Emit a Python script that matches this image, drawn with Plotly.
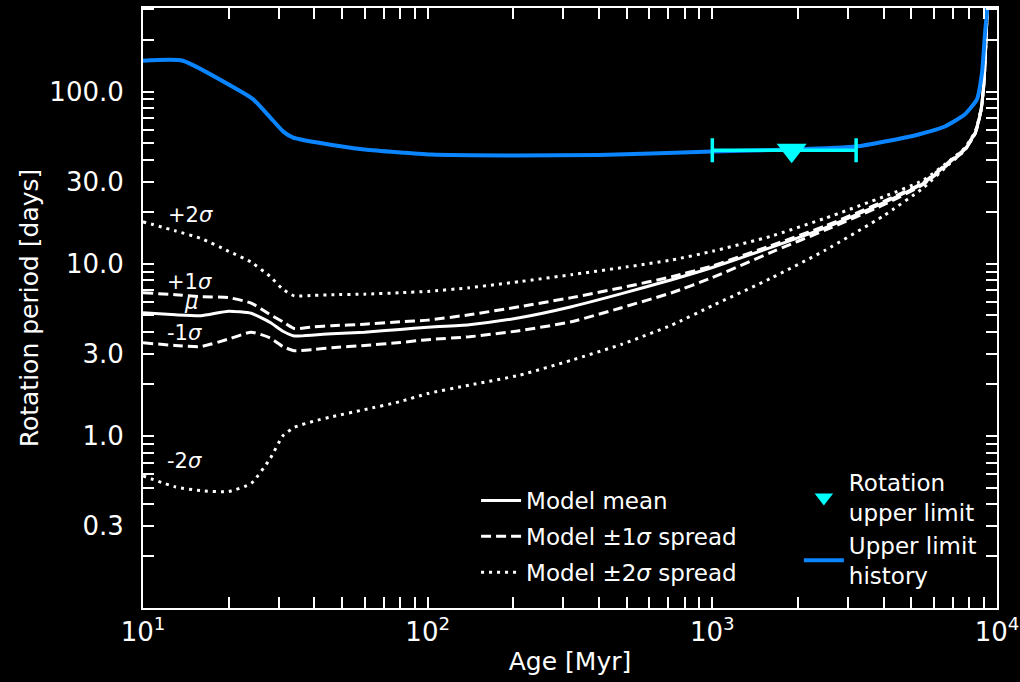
import plotly.graph_objects as go
import math

# ---- data ----
ages = [10, 13, 16, 20, 24, 28, 31, 34, 40, 46, 60, 80, 100, 140, 210, 320, 480, 720,
        1000, 1600, 2500, 4000, 5500, 6800, 7700, 8400, 8800, 9000, 9150, 9300]
p_mean = [5.19, 5.05, 4.99, 5.3, 5.15, 4.55, 4.05, 3.8, 3.85, 3.92, 4.0, 4.15, 4.27, 4.42,
          4.85, 5.62, 6.7, 8.07, 9.5, 12.4, 16.2, 22.6, 29.2, 38.7, 46, 58, 79, 113, 200, 400]
p_plus1 = [6.78, 6.6, 6.43, 6.35, 5.9, 5.05, 4.6, 4.2, 4.3, 4.36, 4.45, 4.6, 4.7, 5.05,
           5.62, 6.35, 7.25, 8.4, 9.7, 12.7, 16.6, 23.0, 29.6, 39.2, 46.5, 58.5, 79.5, 114, 200, 400]
p_minus1 = [3.47, 3.35, 3.3, 3.65, 4.0, 3.7, 3.3, 3.12, 3.18, 3.25, 3.35, 3.48, 3.62, 3.76,
            4.08, 4.6, 5.55, 6.78, 8.3, 11.6, 15.7, 22.0, 28.8, 38.2, 45.6, 57.5, 78.5, 112, 200, 400]
p_plus2 = [17.5, 15.5, 14.0, 11.8, 10.2, 8.4, 7.1, 6.5, 6.55, 6.6, 6.65, 6.78, 6.9, 7.25,
           7.86, 8.63, 9.48, 10.5, 11.8, 14.4, 18.4, 24.5, 30.5, 39.5, 47, 59, 80, 115, 200, 400]
p_minus2 = [0.585, 0.505, 0.48, 0.475, 0.53, 0.74, 1.0, 1.12, 1.22, 1.29, 1.42, 1.58, 1.76,
            1.97, 2.25, 2.75, 3.4, 4.4, 5.7, 8.2, 12.0, 19.0, 27.5, 38.0, 45.5, 57.5, 78, 112, 200, 400]

ul_age = [10, 13.8, 21.4, 24.4, 28.0, 31.1, 33.7, 41, 60, 103, 200, 400, 610, 1000,
          1900, 3200, 4040, 5300, 6560, 7700, 8500, 8860, 9080, 9230, 9350]
ul_p = [151, 151, 103, 90, 70.6, 58.5, 54, 50.5, 46, 43, 42.5, 42.8, 43.6, 44.8,
        46, 47.9, 51.2, 56.3, 62.6, 73.5, 90, 129, 220, 300, 500]

lim_age = [1900]
lim_p = [45.6]
lim_age_lo = [1000]
lim_age_hi = [3200]

x_tickvals = [10, 20, 30, 40, 50, 60, 70, 80, 90, 100, 200, 300, 400, 500, 600, 700, 800, 900,
              1000, 2000, 3000, 4000, 5000, 6000, 7000, 8000, 9000, 10000]
x_labels = {10: "10<sup>1</sup>", 100: "10<sup>2</sup>", 1000: "10<sup>3</sup>", 10000: "10<sup>4</sup>"}
y_tickvals = [0.1, 0.2, 0.3, 0.4, 0.5, 0.6, 0.7, 0.8, 0.9, 1, 2, 3, 4, 5, 6, 7, 8, 9,
              10, 20, 30, 40, 50, 60, 70, 80, 90, 100, 200, 300]
y_labels = {0.3: "0.3", 1: "1.0", 3: "3.0", 10: "10.0", 30: "30.0", 100: "100.0"}

sigma_labels = ["+2<i>σ</i>", "+1<i>σ</i>", "<i>μ</i>", "-1<i>σ</i>", "-2<i>σ</i>"]
sigma_lab_age = [12.0, 11.9, 13.7, 11.9, 11.9]
sigma_lab_p = [19.3, 7.8, 6.0, 3.95, 0.71]

FONT = "DejaVu Sans"
WHITE = "#ffffff"
BLUE = "#0a84ff"
CYAN = "#00ffff"
SM = 0.5

fig = go.Figure()

fig.add_trace(go.Scatter(x=ages, y=p_plus2, mode="lines", name="Model ±2<i>σ</i> spread",
                         line=dict(color=WHITE, width=3, dash="3px,5px", shape="spline", smoothing=SM),
                         legend="legend", legendgroup="g3", legendrank=3))
fig.add_trace(go.Scatter(x=ages, y=p_minus2, mode="lines", showlegend=False,
                         line=dict(color=WHITE, width=3, dash="3px,5px", shape="spline", smoothing=SM),
                         legendgroup="g3"))
fig.add_trace(go.Scatter(x=ages, y=p_plus1, mode="lines", name="Model ±1<i>σ</i> spread",
                         line=dict(color=WHITE, width=3, dash="10px,5px", shape="spline", smoothing=SM),
                         legend="legend", legendgroup="g2", legendrank=2))
fig.add_trace(go.Scatter(x=ages, y=p_minus1, mode="lines", showlegend=False,
                         line=dict(color=WHITE, width=3, dash="10px,5px", shape="spline", smoothing=SM),
                         legendgroup="g2"))
fig.add_trace(go.Scatter(x=ages, y=p_mean, mode="lines", name="Model mean",
                         line=dict(color=WHITE, width=3, shape="spline", smoothing=SM),
                         legend="legend", legendgroup="g1", legendrank=1))

fig.add_trace(go.Scatter(x=ul_age, y=ul_p, mode="lines", name="Upper limit<br>history",
                         line=dict(color=BLUE, width=4, shape="spline", smoothing=SM),
                         legend="legend2", legendgroup="h2", legendrank=2))

fig.add_trace(go.Scatter(
    x=lim_age, y=lim_p, mode="markers", name="Rotation<br>upper limit",
    marker=dict(symbol="triangle-down", size=26, color=CYAN),
    error_x=dict(type="data", symmetric=False,
                 array=[h - a for h, a in zip(lim_age_hi, lim_age)],
                 arrayminus=[a - l for a, l in zip(lim_age, lim_age_lo)],
                 color=CYAN, thickness=3.5, width=12),
    legend="legend2", legendgroup="h1", legendrank=1))

for t, a, p in zip(sigma_labels, sigma_lab_age, sigma_lab_p):
    fig.add_annotation(x=math.log10(a), y=math.log10(p), text=t, showarrow=False,
                       xanchor="left", yanchor="middle",
                       font=dict(family=FONT, size=21, color=WHITE))

axis_common = dict(
    type="log", showgrid=False, zeroline=False, automargin=False,
    showline=True, linecolor=WHITE, linewidth=2, mirror="ticks",
    ticks="inside", ticklen=11, tickwidth=2, tickcolor=WHITE,
    tickfont=dict(family=FONT, size=26, color=WHITE),
)

fig.update_xaxes(**axis_common, range=[1, 4],
                 tickvals=x_tickvals, ticktext=[x_labels.get(v, "") for v in x_tickvals],
                 title=dict(text="Age [Myr]", font=dict(family=FONT, size=25, color=WHITE), standoff=6))
fig.update_yaxes(**axis_common, range=[-1, 2.485], ticklabelstandoff=12,
                 tickvals=y_tickvals, ticktext=[y_labels.get(v, "") for v in y_tickvals],
                 title=dict(text="Rotation period [days]", font=dict(family=FONT, size=25, color=WHITE), standoff=4))

fig.update_layout(
    width=1020, height=682,
    paper_bgcolor="#000000", plot_bgcolor="#000000",
    margin=dict(l=143, r=23, t=8, b=74, autoexpand=False),
    font=dict(family=FONT, color=WHITE),
    legend=dict(x=0.39, y=0.215, xanchor="left", yanchor="top", bgcolor="rgba(0,0,0,0)",
                font=dict(family=FONT, size=23, color=WHITE), traceorder="grouped",
                tracegroupgap=3, itemwidth=40),
    legend2=dict(x=0.768, y=0.245, xanchor="left", yanchor="top", bgcolor="rgba(0,0,0,0)",
                 font=dict(family=FONT, size=23, color=WHITE), traceorder="grouped",
                 tracegroupgap=0, itemwidth=40),
)

fig.write_html("out.html", config={"displayModeBar": False},
               post_script="document.body.style.margin='0';document.body.style.background='#000';")
